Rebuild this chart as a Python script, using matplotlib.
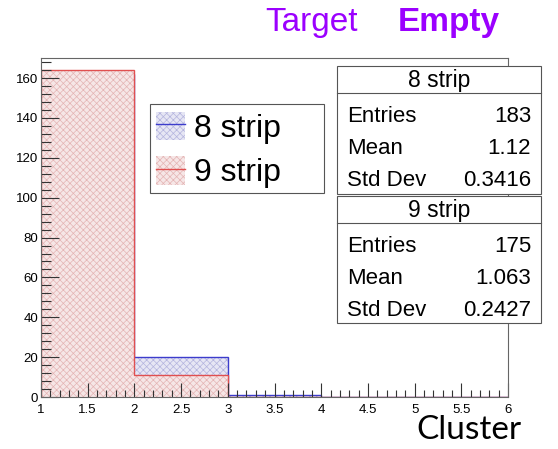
import numpy as np
import matplotlib
matplotlib.use("Agg")
import matplotlib.pyplot as plt
from matplotlib.patches import Rectangle, Patch
from matplotlib.lines import Line2D
from matplotlib.ticker import MultipleLocator

plt.rcParams['font.family'] = ['Liberation Sans', 'DejaVu Sans']
plt.rcParams['hatch.linewidth'] = 0.5

# cluster size histograms, unit bins from 1 to 6
edges = [1, 2, 3, 4, 5, 6]
counts_8strip = [162, 20, 1, 0, 0]
counts_9strip = [164, 11, 0, 0, 0]
labels = ['8 strip', '9 strip']

# stat box contents
entries = [183, 175]
means = ['1.12', '1.063']
stddevs = ['0.3416', '0.2427']

blue = '#3c3ccc'
red = '#e05050'
blue_fill = '#e6e6f4'
red_fill = '#f6e6e6'
blue_hatch = '#b4b4de'
red_hatch = '#e4b4b4'

W, H = 558, 449
fig = plt.figure(figsize=(W / 100, H / 100), dpi=100)
ax = fig.add_axes([41 / W, 1 - 397 / H, (508 - 41) / W, (397 - 58) / H])

for counts, col, fcol, hcol in [(counts_8strip, blue, blue_fill, blue_hatch),
                                (counts_9strip, red, red_fill, red_hatch)]:
    ax.stairs(counts, edges, fill=True, facecolor=fcol, edgecolor=hcol, hatch='xxxxx',
              linewidth=0, baseline=0)
    ax.stairs(counts, edges, color=col, linewidth=1.0, baseline=0)

ax.set_xlim(1, 6)
ax.set_ylim(0, max(counts_8strip) * 1.05)

ax.xaxis.set_major_locator(MultipleLocator(0.5))
ax.xaxis.set_minor_locator(MultipleLocator(0.1))
ax.yaxis.set_major_locator(MultipleLocator(20))
ax.yaxis.set_minor_locator(MultipleLocator(4))
ax.tick_params(which='both', direction='in', top=False, right=False, colors='#333333',
               labelcolor='black', labelsize=9.5, width=0.8)
ax.tick_params(axis='x', which='major', length=10, pad=5)
ax.tick_params(axis='y', which='major', length=13, pad=2)
ax.tick_params(axis='x', which='minor', length=5)
ax.tick_params(axis='y', which='minor', length=7)
ax.xaxis.set_major_formatter(matplotlib.ticker.FuncFormatter(lambda v, p: f'{v:g}'))
for s in ax.spines.values():
    s.set_color('#666666')
    s.set_linewidth(0.8)

# legend frame, wider than the entries like in ROOT
ax.add_patch(Rectangle((150 / W, 1 - 193 / H), (324 - 150) / W, (193 - 104) / H,
                       transform=fig.transFigure, facecolor='white', edgecolor='#555555',
                       linewidth=0.8, zorder=4.5, clip_on=False))
handles = [(Patch(facecolor=blue_fill, edgecolor=blue_hatch, hatch='xxxxx', linewidth=0),
            Line2D([], [], color=blue, lw=1.0)),
           (Patch(facecolor=red_fill, edgecolor=red_hatch, hatch='xxxxx', linewidth=0),
            Line2D([], [], color=red, lw=1.0))]
leg = ax.legend(handles, labels, loc='upper left', bbox_to_anchor=(151 / W, 1 - 107 / H),
                bbox_transform=fig.transFigure, fontsize=23, frameon=False,
                borderpad=0.15, handlelength=0.9, handleheight=1.0, handletextpad=0.3,
                labelspacing=0.38, borderaxespad=0)

# stat boxes
def stat_box(top, bottom, title, rows):
    x0, x1 = 337, 541
    fig.patches.append(Rectangle((x0 / W, 1 - bottom / H), (x1 - x0) / W, (bottom - top) / H,
                                 transform=fig.transFigure, facecolor='white',
                                 edgecolor='#555555', linewidth=0.8, zorder=5))
    sep = top + 27
    fig.add_artist(Line2D([x0 / W, x1 / W], [1 - sep / H] * 2, color='#555555',
                          lw=0.8, zorder=6))
    fig.text((x0 + x1) / 2 / W, 1 - (top + 14) / H, title, ha='center', va='center',
             fontsize=16.5, zorder=7)
    for i, (name, val) in enumerate(rows):
        y = sep + 23 + i * 32.5
        fig.text(347 / W, 1 - y / H, name, ha='left', va='center', fontsize=16, zorder=7)
        fig.text(531 / W, 1 - y / H, val, ha='right', va='center', fontsize=16, zorder=7)

stat_box(66, 194, labels[0], [('Entries', str(entries[0])), ('Mean', means[0]),
                              ('Std Dev', stddevs[0])])
stat_box(196, 323, labels[1], [('Entries', str(entries[1])), ('Mean', means[1]),
                               ('Std Dev', stddevs[1])])

# header
purple = '#9b00ff'
fig.text(265 / W, 1 - 22 / H, 'Target', color=purple, fontsize=24, va='center', ha='left')
fig.text(398 / W, 1 - 22 / H, 'Empty', color=purple, fontsize=24, va='center', ha='left',
         fontweight='bold')

fig.text(522 / W, 1 - 430 / H, 'Cluster', color='black', fontsize=24, va='center',
         ha='right', family=['Lato', 'DejaVu Sans'])

fig.savefig('out.png', dpi=100)
